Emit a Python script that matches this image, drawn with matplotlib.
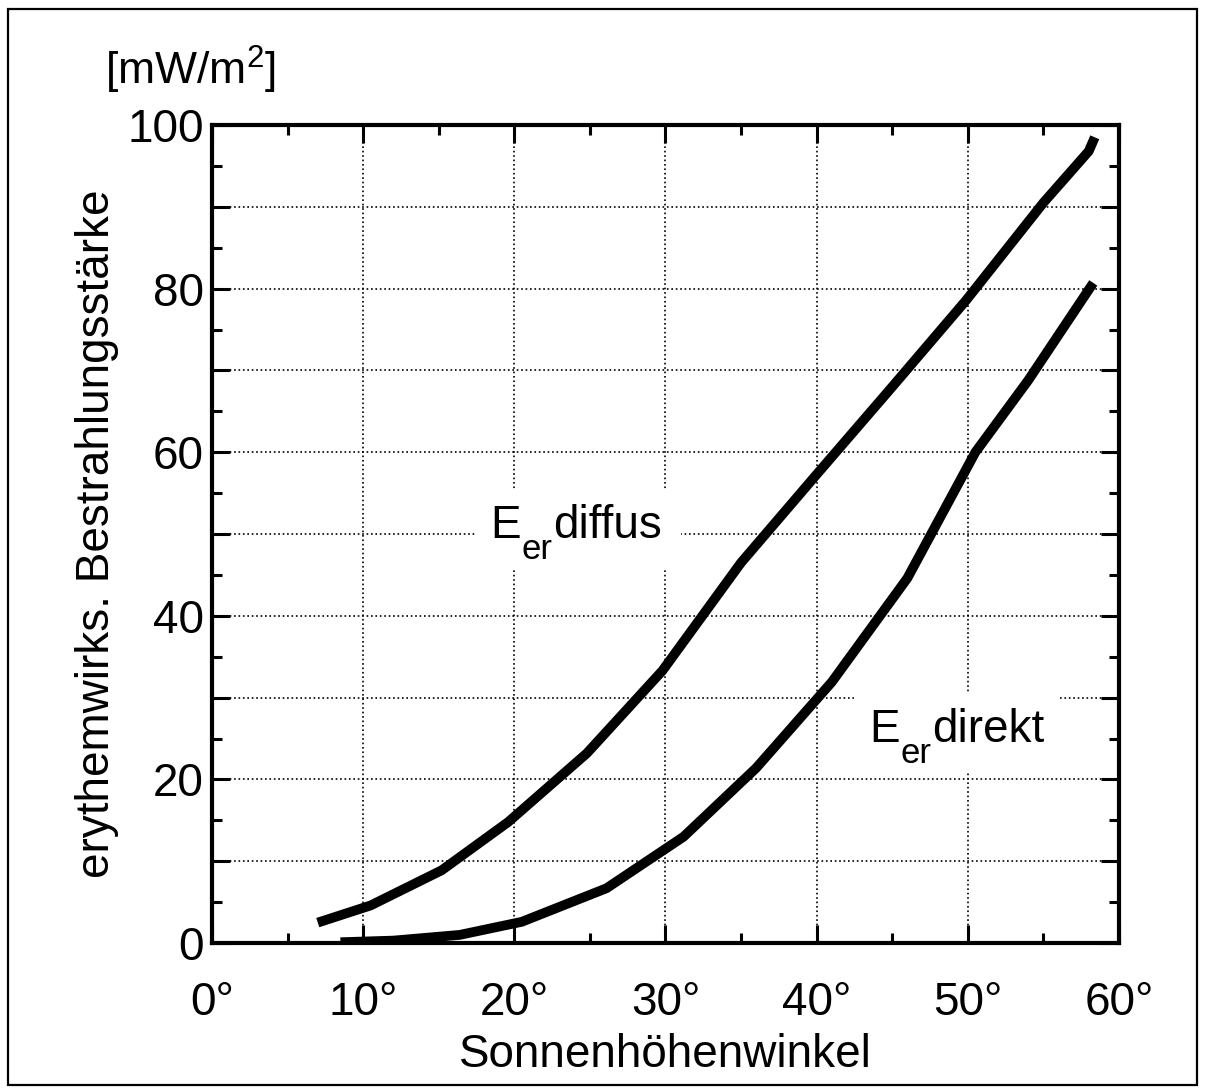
import matplotlib.pyplot as plt
from matplotlib.patches import Rectangle
from matplotlib.ticker import MultipleLocator, FuncFormatter

plt.rcParams['font.family'] = ['Liberation Sans', 'DejaVu Sans']
plt.rcParams['mathtext.fontset'] = 'custom'
plt.rcParams['mathtext.rm'] = 'Liberation Sans'
plt.rcParams['mathtext.it'] = 'Liberation Sans'

# Sonnenhoehenwinkel [Grad] / Bestrahlungsstaerke [mW/m2]
winkel_diffus = [7.0, 10.5, 15.2, 19.6, 24.8, 29.8, 35.0, 40.1, 45.0, 49.9, 55.0, 58.0, 58.4]
e_diffus = [2.5, 4.6, 8.9, 14.8, 23.2, 33.3, 46.5, 57.5, 68.0, 78.6, 90.5, 96.8, 98.5]

winkel_direkt = [8.5, 12.0, 16.4, 20.5, 26.1, 31.2, 36.0, 41.0, 46.0, 50.5, 54.0, 58.3]
e_direkt = [0.1, 0.3, 1.0, 2.6, 6.7, 13.0, 21.4, 31.9, 44.6, 60.0, 68.8, 80.7]

fig = plt.figure(figsize=(12.05, 10.92), dpi=100)
fig.patches.append(Rectangle((8/1205, 7/1092), 1189/1205, 1076/1092, transform=fig.transFigure,
                             fill=False, ec='black', lw=1.6))
ax = fig.add_axes([0.1759, 0.1364, 0.7527, 0.7491])

ax.plot(winkel_diffus, e_diffus, color='black', lw=7, solid_capstyle='butt', zorder=3)
ax.plot(winkel_direkt, e_direkt, color='black', lw=7, solid_capstyle='butt', zorder=3)

ax.set_xlim(0, 60)
ax.set_ylim(0, 100)
ax.xaxis.set_major_locator(MultipleLocator(10))
ax.xaxis.set_minor_locator(MultipleLocator(5))
ax.yaxis.set_major_locator(MultipleLocator(10))
ax.yaxis.set_minor_locator(MultipleLocator(5))
ax.xaxis.set_major_formatter(FuncFormatter(lambda v, p: f"{v:.0f}°"))
ax.yaxis.set_major_formatter(FuncFormatter(lambda v, p: f"{v:.0f}" if round(v) % 20 == 0 else ""))

ax.tick_params(which='both', direction='in', top=True, right=True, width=2.2, labelsize=33)
ax.tick_params(which='major', length=13)
ax.tick_params(which='minor', length=7)
ax.tick_params(axis='x', pad=27)
ax.tick_params(axis='y', pad=6)
for s in ax.spines.values():
    s.set_linewidth(3)

ax.grid(True, which='major', linestyle=':', color='black', lw=1.2)

ax.set_xlabel("Sonnenhöhenwinkel", fontsize=33, labelpad=6)
ax.set_ylabel("erythemwirks. Bestrahlungsstärke", fontsize=33, labelpad=6)
fig.text(105/1205, 1 - 85/1092, "[mW/m$^2$]", fontsize=32, ha='left', va='baseline')

px = 0.72  # points per pixel at dpi 100


def kurvenlabel(x, y, rest):
    # white patch behind the label so the grid is interrupted there
    ax.add_patch(Rectangle((x - 1.0, y - 3.6), 13.6, 9.6, fc='white', ec='none', zorder=2))
    ax.annotate("E", (x, y), fontsize=33, ha='left', va='baseline', zorder=4)
    ax.annotate("er", (x, y), xytext=(31 * px, -21 * px), textcoords='offset points',
                fontsize=25, ha='left', va='baseline', zorder=4)
    ax.annotate(rest, (x, y), xytext=(63 * px, 0), textcoords='offset points',
                fontsize=33, ha='left', va='baseline', zorder=4)


kurvenlabel(18.4, 49.5, "diffus")
kurvenlabel(43.5, 24.6, "direkt")

fig.savefig("out.png", dpi=100)
